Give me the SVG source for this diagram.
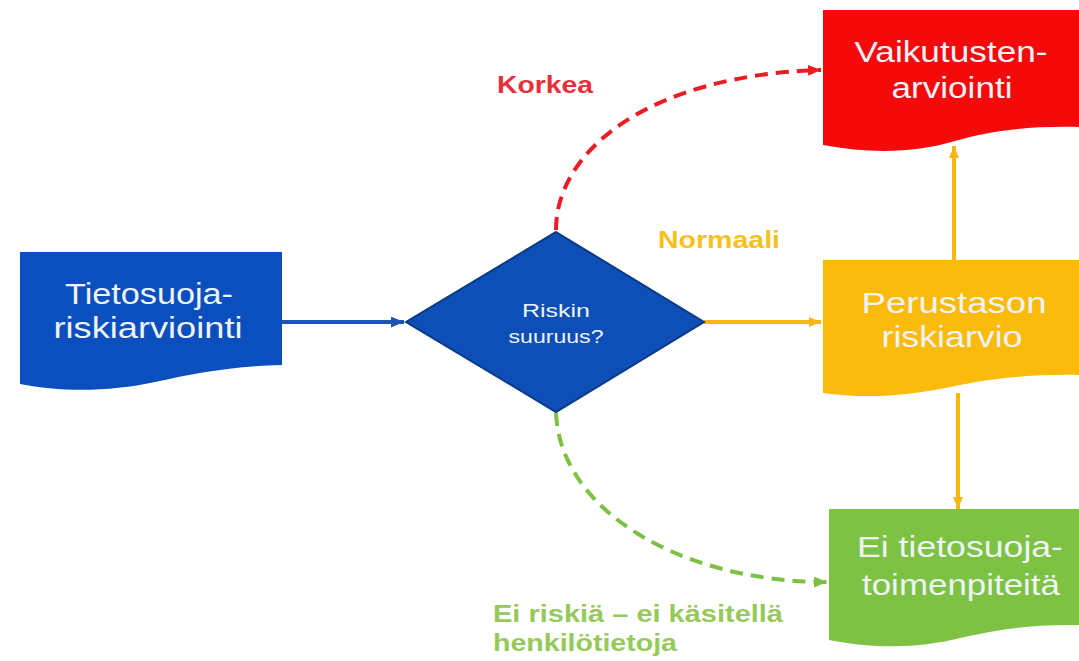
<svg xmlns="http://www.w3.org/2000/svg" width="1079" height="661" viewBox="0 0 1079 661">
<defs>
<style>
.lbl{font-family:"Liberation Sans",Arial,sans-serif;text-anchor:middle;fill:#eef3f8}
.big{font-size:30px}
.small{font-size:18px}
.edge{font-family:"Liberation Sans",Arial,sans-serif;font-weight:bold;font-size:23px}
.conn{fill:none;stroke-width:4}
</style>
<marker id="mBlue" viewBox="0 0 12 10" refX="12" refY="5" markerWidth="13" markerHeight="11" markerUnits="userSpaceOnUse" orient="auto"><path d="M0,0 L12,5 L0,10 Z" fill="#1a55b5"/></marker>
<marker id="mYel" viewBox="0 0 12 10" refX="12" refY="5" markerWidth="12" markerHeight="10" markerUnits="userSpaceOnUse" orient="auto"><path d="M0,0 L12,5 L0,10 Z" fill="#f7b711"/></marker>
<marker id="mRed" viewBox="0 0 12 10" refX="12" refY="5" markerWidth="13" markerHeight="11" markerUnits="userSpaceOnUse" orient="auto"><path d="M0,0 L12,5 L0,10 Z" fill="#ec1c24"/></marker>
<marker id="mGrn" viewBox="0 0 12 10" refX="12" refY="5" markerWidth="13" markerHeight="11" markerUnits="userSpaceOnUse" orient="auto"><path d="M0,0 L12,5 L0,10 Z" fill="#7cc143"/></marker>
</defs>
<rect width="1079" height="661" fill="#ffffff"/>

<g id="connectors">
<line class="conn" x1="282" y1="322" x2="404" y2="322" stroke="#1a55b5" stroke-width="3.5" marker-end="url(#mBlue)"/>
<line class="conn" x1="704" y1="322" x2="821" y2="322" stroke="#f7b711" stroke-width="3.5" marker-end="url(#mYel)"/>
<line class="conn" x1="954" y1="260" x2="954" y2="146" stroke="#f7b711" stroke-width="3.5" marker-end="url(#mYel)"/>
<line class="conn" x1="958" y1="393" x2="958" y2="509" stroke="#f7b711" stroke-width="3.5" marker-end="url(#mYel)"/>
<path class="conn" d="M556,230 C556,150 650,75 821,70" stroke="#ec1c24" stroke-width="5" stroke-dasharray="13,8" marker-end="url(#mRed)"/>
<path class="conn" d="M556,413 C560,510 680,582 827,582" stroke="#7cc143" stroke-width="5" stroke-dasharray="13,8" marker-end="url(#mGrn)"/>
</g>

<g id="edge-labels">
<text class="edge" x="497" y="93" fill="#e8303a" textLength="96" lengthAdjust="spacingAndGlyphs">Korkea</text>
<text class="edge" x="658" y="248" fill="#f5c21c" textLength="122" lengthAdjust="spacingAndGlyphs">Normaali</text>
<text class="edge" x="493" y="622" fill="#95c95a" textLength="290" lengthAdjust="spacingAndGlyphs">Ei riskiä – ei käsitellä</text>
<text class="edge" x="493" y="651" fill="#95c95a" textLength="184" lengthAdjust="spacingAndGlyphs">henkilötietoja</text>
</g>

<g id="node-start">
<path d="M20,252 H282 V365 C235,366 195,373 155,382 C110,392 60,392 20,384 Z" fill="#0b4fbe"/>
<text class="lbl big" x="149" y="304" textLength="168" lengthAdjust="spacingAndGlyphs">Tietosuoja-</text>
<text class="lbl big" x="148" y="338" textLength="189" lengthAdjust="spacingAndGlyphs">riskiarviointi</text>
</g>

<g id="node-decision">
<polygon points="556,232 704,322 556,412 406,322" fill="#0d4fb7" stroke="#0a3a86" stroke-width="2"/>
<text class="lbl small" x="556" y="317" fill="#c9d8ee" textLength="68" lengthAdjust="spacingAndGlyphs">Riskin</text>
<text class="lbl small" x="556" y="343" fill="#c9d8ee" textLength="95" lengthAdjust="spacingAndGlyphs">suuruus?</text>
</g>

<g id="node-high">
<path d="M823,10 H1079 V127 C1025,126 990,131 955,141 C915,153 870,154 823,145 Z" fill="#f40a0a"/>
<text class="lbl big" x="951" y="62" textLength="193" lengthAdjust="spacingAndGlyphs">Vaikutusten-</text>
<text class="lbl big" x="952" y="98" textLength="121" lengthAdjust="spacingAndGlyphs">arviointi</text>
</g>

<g id="node-normal">
<path d="M823,260 H1079 V375 C1025,374 990,379 955,386 C910,396 865,399 823,393 Z" fill="#fbbb0c"/>
<text class="lbl big" x="954" y="313" textLength="185" lengthAdjust="spacingAndGlyphs">Perustason</text>
<text class="lbl big" x="952" y="347" textLength="141" lengthAdjust="spacingAndGlyphs">riskiarvio</text>
</g>

<g id="node-none">
<path d="M829,509 H1079 V625 C1030,624 995,630 960,638 C925,647 880,650 829,640 Z" fill="#7dc242"/>
<text class="lbl big" x="960" y="557" textLength="206" lengthAdjust="spacingAndGlyphs">Ei tietosuoja-</text>
<text class="lbl big" x="961" y="595" textLength="198" lengthAdjust="spacingAndGlyphs">toimenpiteitä</text>
</g>
</svg>
